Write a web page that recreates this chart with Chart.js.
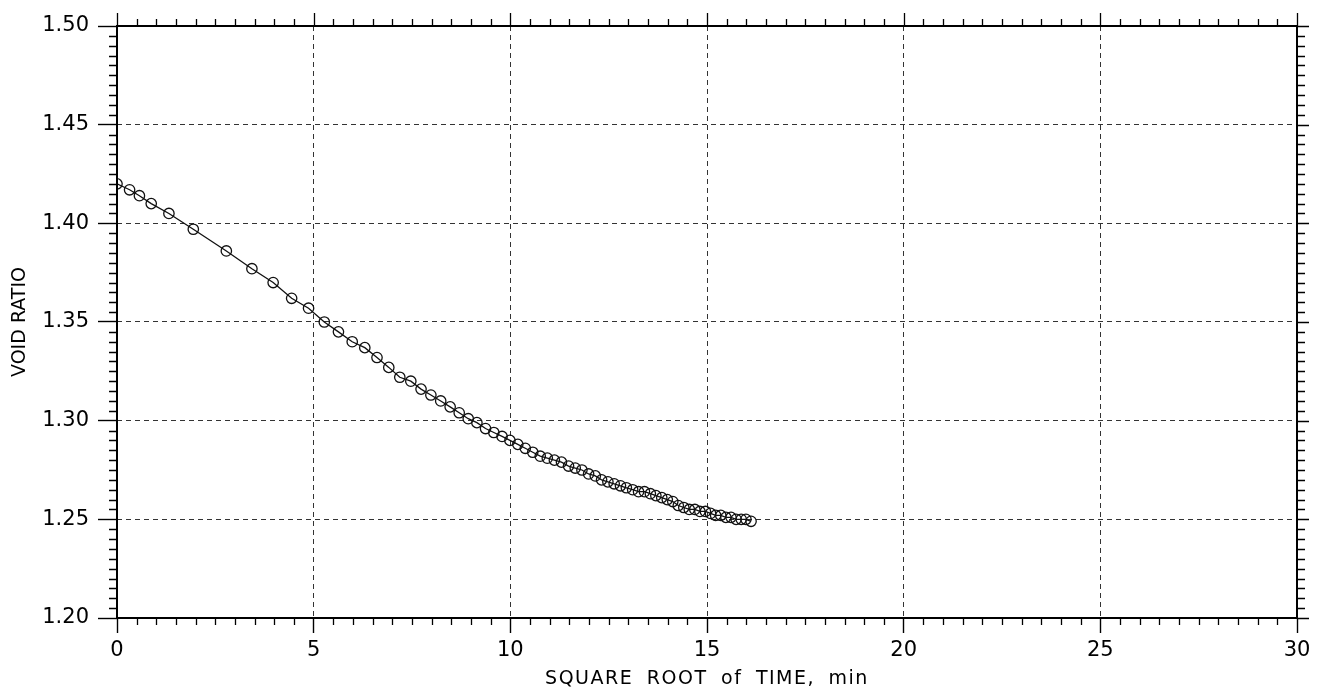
<!DOCTYPE html>
<html>
<head>
<meta charset="utf-8">
<title>Void ratio vs square root of time</title>
<script src="https://cdn.jsdelivr.net/npm/chart.js@4.4.1/dist/chart.umd.min.js"></script>
<style>
  html, body { margin: 0; padding: 0; background: #fff; }
  #wrap { width: 1323px; height: 692px; }
</style>
</head>
<body>
<div id="wrap"><canvas id="chart" width="1323" height="692"></canvas></div>
<script>
/* consolidation reading: void ratio against sqrt(time) */
const sqrtTime = [
  0, 0.32, 0.57, 0.87, 1.32, 1.94, 2.78, 3.43, 3.97, 4.44,
  4.87, 5.27, 5.63, 5.98, 6.30, 6.61, 6.91, 7.19, 7.47, 7.73,
  7.98, 8.23, 8.47, 8.70, 8.93, 9.15, 9.37, 9.58, 9.79, 9.99,
  10.19, 10.38, 10.57, 10.76, 10.94, 11.12, 11.30, 11.48, 11.65, 11.82,
  11.99, 12.16, 12.32, 12.48, 12.64, 12.80, 12.95, 13.11, 13.26, 13.41,
  13.56, 13.70, 13.85, 13.99, 14.13, 14.27, 14.41, 14.55, 14.69, 14.82,
  14.96, 15.09, 15.22, 15.35, 15.48, 15.61, 15.74, 15.87, 15.99, 16.12
];
const voidRatio = [
  1.420, 1.417, 1.414, 1.410, 1.405, 1.397, 1.386, 1.377, 1.370, 1.362,
  1.357, 1.350, 1.345, 1.340, 1.337, 1.332, 1.327, 1.322, 1.320, 1.316,
  1.313, 1.310, 1.307, 1.304, 1.301, 1.299, 1.296, 1.294, 1.292, 1.290,
  1.288, 1.286, 1.284, 1.282, 1.281, 1.280, 1.279, 1.277, 1.276, 1.275,
  1.273, 1.272, 1.270, 1.269, 1.268, 1.267, 1.266, 1.265, 1.264, 1.264,
  1.263, 1.262, 1.261, 1.260, 1.259, 1.257, 1.256, 1.255, 1.255, 1.254,
  1.254, 1.253, 1.252, 1.252, 1.251, 1.251, 1.250, 1.250, 1.250, 1.249
];

const xTicks = [0, 5, 10, 15, 20, 25, 30];
const yTicks = [1.20, 1.25, 1.30, 1.35, 1.40, 1.45, 1.50];

const FONT = "'DejaVu Sans', sans-serif";

// frame on all four sides plus the small outward tick marks (every 0.5 on x, 0.005 on y)
const frameTicks = {
  id: 'frameTicks',
  afterDraw(chart) {
    const { ctx, chartArea: a, scales: { x, y } } = chart;
    ctx.save();
    ctx.strokeStyle = '#000';
    ctx.lineWidth = 2;
    ctx.strokeRect(a.left, a.top, a.right - a.left, a.bottom - a.top);
    ctx.lineWidth = 1.3;
    ctx.beginPath();
    for (let i = 0; i <= 60; i++) {
      const px = Math.round(x.getPixelForValue(i * 0.5)) + 0.5;
      const major = i % 10 === 0;
      ctx.moveTo(px, a.top);
      ctx.lineTo(px, a.top - (major ? 13 : 7));
      if (!major) { ctx.moveTo(px, a.bottom); ctx.lineTo(px, a.bottom + 7); }
    }
    for (let i = 0; i <= 60; i++) {
      const py = Math.round(y.getPixelForValue(1.2 + i * 0.005)) + 0.5;
      const major = i % 10 === 0;
      ctx.moveTo(a.right, py);
      ctx.lineTo(a.right + (major ? 12 : 8), py);
      if (!major) { ctx.moveTo(a.left, py); ctx.lineTo(a.left - 8, py); }
    }
    ctx.stroke();
    ctx.restore();
  }
};

const chart = new Chart(document.getElementById('chart'), {
  type: 'line',
  data: {
    datasets: [{
      data: sqrtTime.map((t, i) => ({ x: t, y: voidRatio[i] })),
      borderColor: '#111',
      borderWidth: 1.3,
      pointStyle: 'circle',
      pointRadius: 5.2,
      pointBorderWidth: 1.3,
      pointBorderColor: '#111',
      pointBackgroundColor: 'rgba(0,0,0,0)',
      tension: 0,
      fill: false
    }]
  },
  options: {
    responsive: false,
    animation: false,
    devicePixelRatio: 1,
    layout: { padding: { top: 26, right: 26, left: 0, bottom: 0 } },
    plugins: { legend: { display: false }, tooltip: { enabled: false } },
    scales: {
      x: {
        type: 'linear',
        min: 0, max: 30,
        afterBuildTicks: s => { s.ticks = xTicks.map(v => ({ value: v })); },
        afterFit: s => { s.height = 74; },
        grid: { color: '#333', lineWidth: 1, tickLength: 15, tickColor: '#000', tickWidth: 1.4 },
        border: { display: false, dash: [5, 4] },
        ticks: { color: '#000', font: { family: FONT, size: 21 }, padding: 5, maxRotation: 0 },
        title: {
          display: true,
          text: 'SQUARE ROOT of TIME, min',
          color: '#000',
          font: { family: FONT, size: 19, lineHeight: 1.2 },
          padding: { top: 0, bottom: 2 }
        }
      },
      y: {
        min: 1.2, max: 1.5,
        afterBuildTicks: s => { s.ticks = yTicks.map(v => ({ value: v })); },
        afterFit: s => { s.width = 117; },
        grid: { color: '#333', lineWidth: 1, tickLength: 19, tickColor: '#000', tickWidth: 1.4 },
        border: { display: false, dash: [5, 4] },
        ticks: { color: '#000', font: { family: FONT, size: 21 }, padding: 9, callback: v => v.toFixed(2) },
        title: {
          display: true,
          text: 'VOID RATIO',
          color: '#000',
          font: { family: FONT, size: 19, lineHeight: 1.2 },
          padding: { top: 9, bottom: 0 }
        }
      }
    }
  },
  plugins: [frameTicks, {
    // wider lettering on the x axis title
    id: 'titleSpacing',
    afterLayout(c) {
      const sx = c.scales.x;
      if (sx._spaced) return;
      const orig = sx.drawTitle.bind(sx);
      sx.drawTitle = function () {
        c.ctx.save();
        c.ctx.letterSpacing = '1.5px';
        c.ctx.wordSpacing = '6px';
        orig();
        c.ctx.restore();
      };
      sx._spaced = true;
    }
  }]
});
</script>
</body>
</html>
